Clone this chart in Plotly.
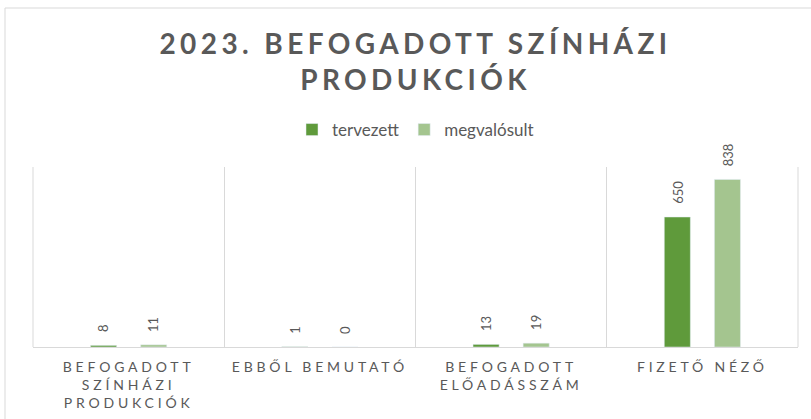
import plotly.graph_objects as go

categories = ["BEFOGADOTT<br>SZÍNHÁZI<br>PRODUKCIÓK", "EBBŐL BEMUTATÓ", "BEFOGADOTT<br>ELŐADÁSSZÁM", "FIZETŐ NÉZŐ"]
tervezett = [8, 1, 13, 650]
megvalosult = [11, 0, 19, 838]
series_names = ["tervezett", "megvalósult"]
title_text = "<b>2023. BEFOGADOTT SZÍNHÁZI<br>PRODUKCIÓK</b>"

DARK = "#5F9A3B"
LIGHT = "#A4C58F"
GRAY = "#595959"
GRID = "#D9D9D9"
FONT = "Lato, Open Sans, sans-serif"

W, H = 811, 419
ML, MR, MT, MB = 33, 13, 167, 72
BARGAP, BARGROUPGAP = 0.476, 0.48

fig = go.Figure()
series = [(series_names[0], tervezett, DARK), (series_names[1], megvalosult, LIGHT)]
for name, vals, col in series:
    fig.add_trace(go.Bar(x=categories, y=vals, name=name, marker_color=col))

# data labels as rotated annotations above each bar (offset to the group slot)
plot_w = W - ML - MR
slot = plot_w / len(categories) * (1 - BARGAP) / len(series)
annotations = []
for si, (name, vals, col) in enumerate(series):
    shift = (si - (len(series) - 1) / 2) * slot
    for c, v in zip(categories, vals):
        annotations.append(dict(
            x=c, y=v, xref="x", yref="y", text=str(v), showarrow=False,
            textangle=-90, xanchor="center", yanchor="bottom", xshift=shift, yshift=11,
            font=dict(color=GRAY, size=13, family=FONT),
        ))

fig.update_layout(
    width=W, height=H,
    margin=dict(l=ML, r=MR, t=MT, b=MB, autoexpand=False),
    paper_bgcolor="white", plot_bgcolor="white",
    barmode="group", bargap=BARGAP, bargroupgap=BARGROUPGAP,
    font=dict(family=FONT, color=GRAY),
    title=dict(text=title_text, x=0.5, xref="paper", xanchor="center",
               y=1 - 54 / H, yref="container", yanchor="top",
               font=dict(size=28, color=GRAY, family=FONT)),
    legend=dict(orientation="h", x=0.5, xanchor="center", y=1 + (MT - 130) / (H - MT - MB),
                yanchor="middle", font=dict(size=17, color=GRAY), itemwidth=30,
                traceorder="normal"),
    showlegend=True,
    annotations=annotations,
    shapes=[
        dict(type="rect", xref="paper", yref="paper",
             x0=(5 - ML) / plot_w, x1=(815 - ML) / plot_w,
             y0=-(425 - (H - MB)) / (H - MT - MB), y1=1 + (MT - 8) / (H - MT - MB),
             line=dict(color=GRID, width=1), fillcolor="rgba(0,0,0,0)", layer="below"),
        dict(type="line", xref="paper", yref="paper", x0=0, x1=0, y0=0, y1=1,
             line=dict(color=GRID, width=1), layer="below"),
        dict(type="line", xref="paper", yref="paper", x0=1, x1=1, y0=0, y1=1,
             line=dict(color=GRID, width=1), layer="below"),
    ],
)
fig.update_xaxes(
    type="category", tickson="boundaries", showgrid=True, gridcolor=GRID, gridwidth=1,
    ticks="", showline=True, linecolor=GRID, linewidth=1, automargin=False,
    ticklabelstandoff=7,
    tickfont=dict(size=14, color=GRAY, family=FONT), tickangle=0,
)
fig.update_yaxes(range=[0, 900], showgrid=False, showticklabels=False, zeroline=False,
                 showline=False, automargin=False)

css = ("document.body.style.margin='0';"
       "var s=document.createElement('style');"
       "s.textContent='body{margin:0}.xtick text{letter-spacing:3.8px}"
       ".gtitle{letter-spacing:4.4px}';"
       "document.head.appendChild(s);")
fig.write_html("out.html", post_script=css, config={"displayModeBar": False})
